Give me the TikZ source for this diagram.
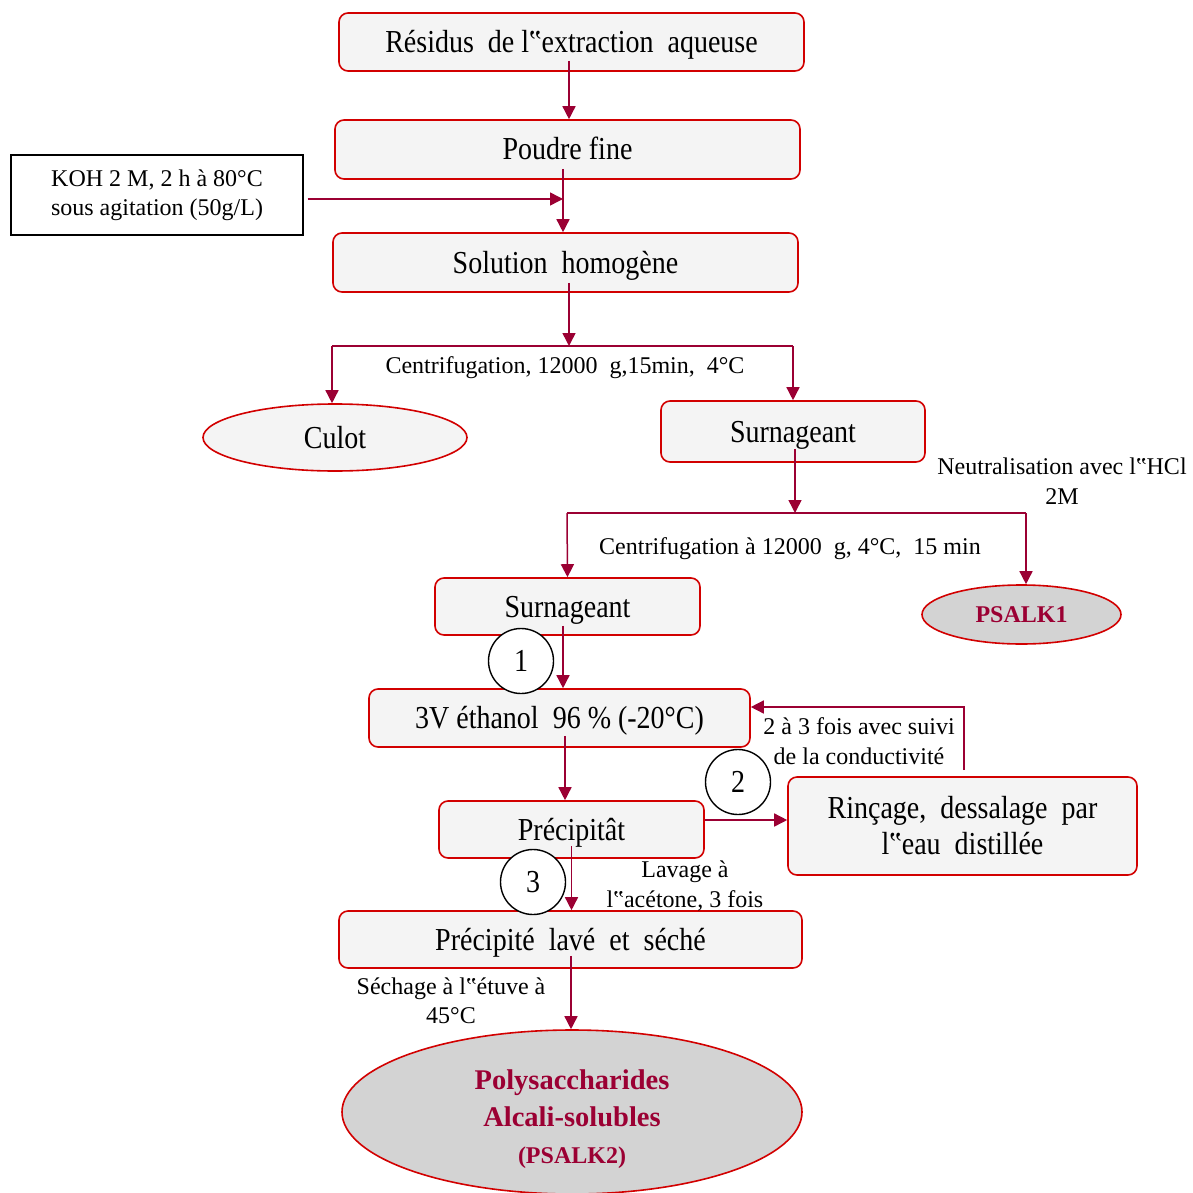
\documentclass[tikz,border=0pt]{standalone}
\usepackage{fontspec}
\setmainfont{Liberation Serif}
\newfontfamily\condfont{Liberation Serif}[FakeStretch=0.875]
\usetikzlibrary{arrows.meta,shapes.geometric}
\definecolor{arrc}{HTML}{9B0033}
\definecolor{boxr}{HTML}{D20000}
\definecolor{boxf}{HTML}{F4F4F4}
\definecolor{ellg}{HTML}{D3D3D3}
\newcommand\bigtxt{\condfont\fontsize{32}{36}\selectfont}
\newcommand\smalltxt{\fontsize{24}{29.5}\selectfont}
\begin{document}
\begin{tikzpicture}[x=1pt,y=-1pt,
  box/.style={draw=boxr, line width=1.6pt, fill=boxf, rounded corners=9pt, inner sep=0pt, align=center, font=\bigtxt, text height=21pt, text depth=0pt},
  ellw/.style={ellipse, draw=boxr, line width=1.6pt, fill=boxf, inner sep=0pt, align=center, font=\bigtxt, text height=21pt, text depth=0pt},
  ellgr/.style={ellipse, draw=boxr, line width=1.6pt, fill=ellg, inner sep=0pt, align=center, text=arrc},
  plainbox/.style={draw=black, line width=1.4pt, fill=white, inner sep=0pt, align=center, font=\smalltxt},
  num/.style={circle, draw=black, line width=1.4pt, fill=white, minimum size=65pt, inner sep=0pt, font=\bigtxt},
  lbl/.style={inner sep=0pt, align=center, font=\smalltxt},
  arr/.style={draw=arrc, line width=1.5pt, -{Triangle[length=13pt,width=13pt]}},
  ln/.style={draw=arrc, line width=1.5pt}
]
\useasboundingbox (0,0) rectangle (1193,1193);
% boxes
\node[box, minimum width=465pt, minimum height=58pt] (b1) at (571.5,42) {Résidus\ \ de l‟extraction\ \ aqueuse};
\node[box, minimum width=465pt, minimum height=59pt] (b2) at (567.5,149.5) {Poudre fine};
\node[plainbox, minimum width=292pt, minimum height=80pt] (koh) at (157,195) {KOH 2 M, 2 h à 80°C\\sous agitation (50g/L)};
\node[box, minimum width=465pt, minimum height=59pt] (b3) at (565.5,262.5) {Solution\ \ homogène};
\node[ellw, minimum width=264pt, minimum height=67pt] (culot) at (335,437.5) {Culot};
\node[box, minimum width=264pt, minimum height=61pt] (s1) at (793,431.5) {Surnageant};
\node[box, minimum width=265pt, minimum height=57pt] (s2) at (567.5,606.5) {Surnageant};
\node[ellgr, minimum width=199pt, minimum height=59pt, font=\fontsize{24}{28}\selectfont\bfseries, text height=16pt, text depth=0pt] (psalk1) at (1021.5,614.5) {PSALK1};
\node[box, minimum width=381pt, minimum height=58pt] (eth) at (559.5,718) {3V éthanol\ \ 96 \% (-20°C)};
\node[box, minimum width=265pt, minimum height=57pt] (prec) at (571.5,829.5) {Précipitât};
\node[box, text height=, text depth=, minimum width=349pt, minimum height=98pt] (rinc) at (962.5,826) {Rinçage,\ \ dessalage\ \ par\\l‟eau\ \ distillée};
\node[box, minimum width=463pt, minimum height=57pt] (lave) at (570.5,939.5) {Précipité\ \ lavé\ \ et\ \ séché};
\node[ellgr, minimum width=460pt, minimum height=164pt] (final) at (572,1112) {};
\node[inner sep=0pt, align=center, text=arrc, font=\fontsize{28.5}{37}\selectfont\bfseries] (ftxt) at (572,1119) {Polysaccharides\\Alcali-solubles\\{\fontsize{24}{37}\selectfont(PSALK2)}};
% numbered circles
\node[num] (c1) at (521,661) {1};
\node[num] (c2) at (738,782) {2};
\node[num] (c3) at (533,882) {3};
% labels
\node[lbl] (t1) at (565,368) {Centrifugation, 12000\ \ g,15min,\ \ 4°C};
\node[lbl] (t2) at (1062,481) {Neutralisation avec l‟HCl\\2M};
\node[lbl] (t3) at (790,549) {Centrifugation à 12000\ \ g, 4°C,\ \ 15 min};
\node[lbl] (t4) at (859,741) {2 à 3 fois avec suivi\\de la conductivité};
\node[lbl] (t5) at (685,886) {Lavage à\\l‟acétone, 3 fois};
\node[lbl] (t6) at (451,1001) {Séchage à l‟étuve à\\45°C};
% junctions
\coordinate (j1) at (563,199);
\coordinate (s1L) at (332,346);
\coordinate (s1M) at (569,346);
\coordinate (s1R) at (793,346);
\coordinate (s2L) at (567,513);
\coordinate (s2M) at (795,513);
\coordinate (s2R) at (1026,513);
% connectors
\draw[arr] ([xshift=-2.5pt,yshift=11pt]b1.south) coordinate (a1) -- (a1 |- b2.north);
\draw[arr] ([xshift=-4.5pt,yshift=11pt]b2.south) coordinate (a2) -- (a2 |- b3.north);
\draw[arr, shorten <=4pt] ([yshift=-4pt]koh.east) -- (j1);
\draw[arr] ([xshift=3.5pt,yshift=10pt]b3.south) -- (s1M);
\draw[ln] (s1L) -- (s1R);
\draw[arr] (s1L) -- (s1L |- culot.north);
\draw[arr] (s1R) -- (s1.north);
\draw[arr] ([xshift=2pt,yshift=14pt]s1.south) -- (s2M);
\draw[ln] (s2L) -- (s2R);
\draw[arr] (s2L) -- (s2.north);
\draw[arr] (s2R) -- (s2R |- psalk1.north);
\draw[arr] ([xshift=-4.5pt,yshift=10pt]s2.south) coordinate (a3) -- (a3 |- eth.north);
\draw[arr] ([xshift=5.5pt,yshift=12pt]eth.south) coordinate (a4) -- (a4 |- prec.north);
\draw[arr] ([yshift=9.5pt]prec.east) coordinate (a5) -- (a5 -| rinc.west);
\draw[arr] ([xshift=1.5pt,yshift=6pt]rinc.north) |- ([yshift=11pt]eth.east);
\draw[arr] ([yshift=13pt]prec.south) coordinate (a6) -- (a6 |- lave.north);
\draw[arr] ([xshift=0.5pt,yshift=13pt]lave.south) coordinate (a7) -- (a7 |- final.north);
\end{tikzpicture}
\end{document}
